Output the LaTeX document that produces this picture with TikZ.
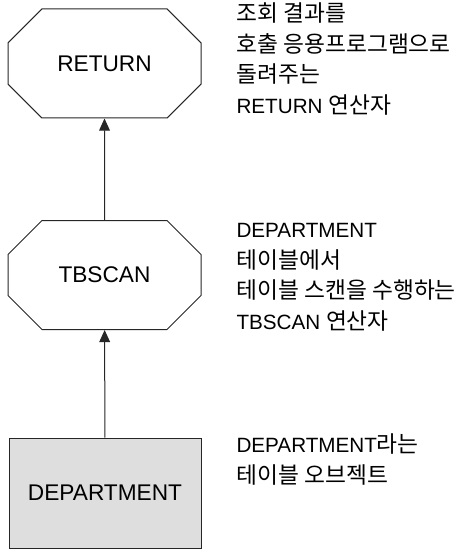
\documentclass[tikz,border=0pt]{standalone}
\usepackage{fontspec}
\setmainfont{Liberation Sans}
\newfontfamily\krfont[Scale=1.1]{Noto Sans CJK KR}
\usetikzlibrary{shapes.misc,arrows.meta}

\tikzset{every picture/.style={line width=0.75pt}}
\tikzset{
  opnode/.style={chamfered rectangle, chamfered rectangle xsep=26.25pt,
    chamfered rectangle ysep=19.5pt, minimum width=144.75pt, minimum height=81.75pt,
    inner sep=0pt, draw=black!85, font=\fontsize{17}{20}\selectfont},
  tablenode/.style={rectangle, minimum width=144pt, minimum height=82.5pt,
    inner sep=0pt, draw=black!85, fill=black!13, font=\fontsize{17}{20}\selectfont},
  note/.style={anchor=base west, inner sep=0pt, align=left,
    font=\fontsize{15.5}{22.9}\selectfont},
  flow/.style={draw=black!85, -{Triangle[length=9pt,width=8pt]}},
}

\begin{document}
\begin{tikzpicture}[x=0.75pt,y=0.75pt,yscale=-1,xscale=1]
\useasboundingbox (0,0) rectangle (464,549);

% Operator nodes
\node [opnode] (return) at (104.5,63.5) {RETURN};
\node [opnode] (tbscan) at (104.5,275) {TBSCAN};
% Table node
\node [tablenode] (department) at (105,493) {DEPARTMENT};

% Connectors
\draw [flow] (tbscan) -- (return);
\draw [flow] (department) -- (tbscan);

% Text Node (anchored at the last line)
\node [note] (returnnote) at (236,113.5) {{\krfont 조회 결과를}\\{\krfont 호출 응용프로그램으로}\\{\krfont 돌려주는}\\RETURN {\krfont 연산자}};
% Text Node
\node [note] (tbscannote) at (236,329.5) {DEPARTMENT\\{\krfont 테이블에서}\\{\krfont 테이블 스캔을 수행하는}\\TBSCAN {\krfont 연산자}};
% Text Node
\node [note] (deptnote) at (236,483.5) {DEPARTMENT{\krfont 라는}\\{\krfont 테이블 오브젝트}};

\end{tikzpicture}
\end{document}
